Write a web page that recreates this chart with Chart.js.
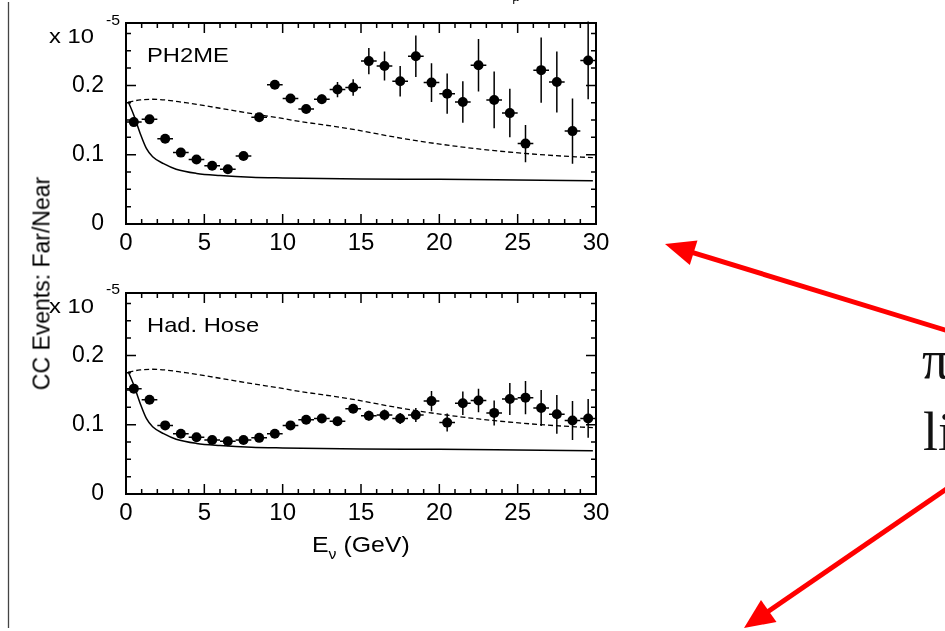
<!DOCTYPE html>
<html>
<head>
<meta charset="utf-8">
<title>CC Events: Far/Near</title>
<script src="https://cdn.jsdelivr.net/npm/chart.js@4.4.1/dist/chart.umd.min.js"></script>
<style>
body { margin: 0; background: #fff; overflow: hidden; width: 945px; height: 631px; position: relative; font-family: "Liberation Sans", Arial, sans-serif; }
canvas { position: absolute; left: 0; }
.lbl { position: absolute; white-space: nowrap; line-height: 1; color: #000; }
.wide { transform: scaleX(1.13); transform-origin: left center; }
.serif { font-family: "Liberation Serif", "Times New Roman", serif; color: #111; }
</style>
</head>
<body>
<canvas id="top-chart" width="640" height="270" style="top:0"></canvas>
<canvas id="bottom-chart" width="640" height="270" style="top:270px"></canvas>

<div class="lbl wide" style="left:49px; top:25px; font-size:21px">x 10</div>
<div class="lbl wide" style="left:106px; top:13px; font-size:14px">-5</div>
<div class="lbl wide" style="left:147px; top:44px; font-size:21px">PH2ME</div>

<div class="lbl wide" style="left:49px; top:295px; font-size:21px">x 10</div>
<div class="lbl wide" style="left:106px; top:282px; font-size:14px">-5</div>
<div class="lbl wide" style="left:147px; top:314px; font-size:21px">Had. Hose</div>

<div class="lbl" style="left:-78px; top:272px; width:240px; height:23px; text-align:center; font-size:23px; transform:rotate(-90deg)">CC Events: Far/Near</div>
<div class="lbl wide" style="left:312px; top:534px; font-size:22px">E<span style="font-size:14px; position:relative; top:7px">ν</span> (GeV)</div>

<div class="lbl serif" style="left:512px; top:-10px; font-size:14px">μ</div>
<div class="lbl serif" style="left:922px; top:333px; font-size:54px">π</div>
<div class="lbl serif" style="left:923px; top:405px; font-size:54px">li</div>

<svg width="945" height="631" style="position:absolute; left:0; top:0">
  <line x1="8.5" y1="2" x2="8.5" y2="628" stroke="#444" stroke-width="1.3"/>
  <line x1="960" y1="334.6" x2="692" y2="252.3" stroke="#f00" stroke-width="5"/>
  <polygon points="665,244 697.5,240.5 689.8,265" fill="#f00"/>
  <line x1="960" y1="479.7" x2="767" y2="612.2" stroke="#f00" stroke-width="5"/>
  <polygon points="744,628 776.5,622 761,600" fill="#f00"/>
</svg>

<script>
// bin centres (GeV)
const binCenters = [0.5, 1.5, 2.5, 3.5, 4.5, 5.5, 6.5, 7.5, 8.5, 9.5,
    10.5, 11.5, 12.5, 13.5, 14.5, 15.5, 16.5, 17.5, 18.5, 19.5,
    20.5, 21.5, 22.5, 23.5, 24.5, 25.5, 26.5, 27.5, 28.5, 29.5];
const binHalfWidth = 0.5;

// PH2ME far/near ratio (x 10^-5)
const ph2meRatio = [0.147, 0.151, 0.123, 0.103, 0.093, 0.084, 0.079, 0.098, 0.154, 0.201,
    0.181, 0.166, 0.180, 0.194, 0.197, 0.235, 0.228, 0.206, 0.242, 0.204,
    0.188, 0.176, 0.229, 0.179, 0.160, 0.116, 0.222, 0.205, 0.134, 0.236];
const ph2meErr = [0.004, 0.004, 0.004, 0.004, 0.004, 0.004, 0.004, 0.004, 0.004, 0.005,
    0.005, 0.005, 0.007, 0.011, 0.012, 0.019, 0.021, 0.022, 0.030, 0.028,
    0.029, 0.030, 0.038, 0.041, 0.035, 0.027, 0.047, 0.044, 0.047, 0.056];

// Had. Hose far/near ratio
const hoseRatio = [0.152, 0.136, 0.099, 0.087, 0.082, 0.078, 0.076, 0.078, 0.081, 0.087,
    0.099, 0.107, 0.109, 0.105, 0.123, 0.113, 0.114, 0.109, 0.114, 0.134,
    0.103, 0.131, 0.135, 0.117, 0.137, 0.139, 0.124, 0.115, 0.106, 0.109];
const hoseErr = [0.004, 0.004, 0.004, 0.004, 0.004, 0.004, 0.004, 0.004, 0.004, 0.004,
    0.004, 0.004, 0.005, 0.005, 0.006, 0.007, 0.008, 0.008, 0.010, 0.0145,
    0.013, 0.017, 0.017, 0.018, 0.023, 0.024, 0.026, 0.028, 0.028, 0.028];

// solid curve
const solidE = [0.15, 0.5, 0.9, 1.3, 1.7, 2.4, 3.2, 4.5, 6, 8, 10, 15, 20, 25, 29.8];
const solidRatio = [0.176, 0.157, 0.131, 0.109, 0.097, 0.087, 0.079, 0.073, 0.070, 0.0675, 0.0665, 0.065, 0.0645, 0.0635, 0.0625];

// dashed curve
const dashedE = [0.15, 0.9, 1.7, 3.8, 6, 8.1, 9.8, 11.1, 14.1, 18.3, 22.6, 26.8, 29.8];
const dashedRatio = [0.176, 0.179, 0.180, 0.175, 0.167, 0.159, 0.153, 0.148, 0.138, 0.121, 0.108, 0.0995, 0.0957];

const xTickValues = [0, 5, 10, 15, 20, 25, 30];
const yTickValues = [0, 0.1, 0.2];

Chart.defaults.font.family = '"Liberation Sans", Arial, sans-serif';
Chart.defaults.font.size = 23;
Chart.defaults.color = '#000';

const toPoints = (xs, ys) => xs.map((x, i) => ({x: x, y: ys[i]}));

const rootFrame = {
    id: 'rootFrame',
    beforeDatasetsDraw(chart) {
        const ctx = chart.ctx;
        const xs = chart.scales.x, ys = chart.scales.y;
        const ds = chart.data.datasets[0];
        ctx.save();
        ctx.strokeStyle = '#000';
        ctx.lineWidth = 1.5;
        ds.data.forEach((p, i) => {
            const px = xs.getPixelForValue(p.x);
            const py = ys.getPixelForValue(p.y);
            ctx.beginPath();
            ctx.moveTo(xs.getPixelForValue(p.x - binHalfWidth), py);
            ctx.lineTo(xs.getPixelForValue(p.x + binHalfWidth), py);
            ctx.moveTo(px, ys.getPixelForValue(p.y - ds.yErr[i]));
            ctx.lineTo(px, ys.getPixelForValue(p.y + ds.yErr[i]));
            ctx.stroke();
        });
        ctx.restore();
    },
    afterDraw(chart) {
        const ctx = chart.ctx;
        const a = chart.chartArea;
        const xs = chart.scales.x, ys = chart.scales.y;
        ctx.save();
        ctx.strokeStyle = '#000';
        ctx.lineWidth = 1.5;
        ctx.beginPath();
        // minor/major ticks on all four sides, pointing inwards
        for (let v = 0; v <= 30; v++) {
            const px = xs.getPixelForValue(v);
            const len = v % 5 === 0 ? 10 : 5;
            ctx.moveTo(px, a.bottom); ctx.lineTo(px, a.bottom - len);
            ctx.moveTo(px, a.top); ctx.lineTo(px, a.top + len);
        }
        for (let k = 0; k <= 11; k++) {
            const py = ys.getPixelForValue(k * 0.025);
            const len = k % 4 === 0 ? 10 : 5;
            ctx.moveTo(a.left, py); ctx.lineTo(a.left + len, py);
            ctx.moveTo(a.right, py); ctx.lineTo(a.right - len, py);
        }
        ctx.stroke();
        ctx.lineWidth = 2;
        ctx.strokeRect(a.left, a.top, a.right - a.left, a.bottom - a.top);
        ctx.restore();
    }
};

function makePanel(canvasId, ratio, err) {
    const ctx = document.getElementById(canvasId).getContext('2d');
    return new Chart(ctx, {
        type: 'scatter',
        data: {
            datasets: [{
                data: toPoints(binCenters, ratio),
                yErr: err,
                pointRadius: 5,
                pointBackgroundColor: '#000',
                pointBorderWidth: 0,
                showLine: false
            }, {
                data: toPoints(solidE, solidRatio),
                showLine: true,
                borderColor: '#000',
                borderWidth: 1.5,
                pointRadius: 0,
                cubicInterpolationMode: 'monotone'
            }, {
                data: toPoints(dashedE, dashedRatio),
                showLine: true,
                borderColor: '#000',
                borderWidth: 1.3,
                borderDash: [5, 3],
                pointRadius: 0,
                cubicInterpolationMode: 'monotone'
            }]
        },
        options: {
            responsive: false,
            devicePixelRatio: 1,
            animation: false,
            events: [],
            layout: { padding: { left: 0, top: 23, right: 44, bottom: 0 } },
            plugins: { legend: { display: false }, tooltip: { enabled: false } },
            scales: {
                x: {
                    type: 'linear',
                    min: 0,
                    max: 30,
                    grid: { display: false, drawTicks: false },
                    border: { display: false },
                    afterBuildTicks: (scale) => { scale.ticks = xTickValues.map(v => ({value: v})); },
                    afterFit: (scale) => { scale.height = 46; scale.paddingLeft = 0; scale.paddingRight = 0; },
                    ticks: { padding: 5, maxRotation: 0, autoSkip: false, font: { size: 24 }, callback: (v) => String(v) }
                },
                y: {
                    type: 'linear',
                    min: 0,
                    max: 0.29,
                    grid: { display: false, drawTicks: false },
                    border: { display: false },
                    afterBuildTicks: (scale) => { scale.ticks = yTickValues.map(v => ({value: v})); },
                    afterFit: (scale) => { scale.width = 126; scale.paddingTop = 0; scale.paddingBottom = 0; },
                    ticks: { padding: 22, font: { size: 23 }, callback: (v) => v === 0 ? '0' : v.toFixed(1) }
                }
            }
        },
        plugins: [rootFrame]
    });
}

makePanel('top-chart', ph2meRatio, ph2meErr);
makePanel('bottom-chart', hoseRatio, hoseErr);
</script>
</body>
</html>
